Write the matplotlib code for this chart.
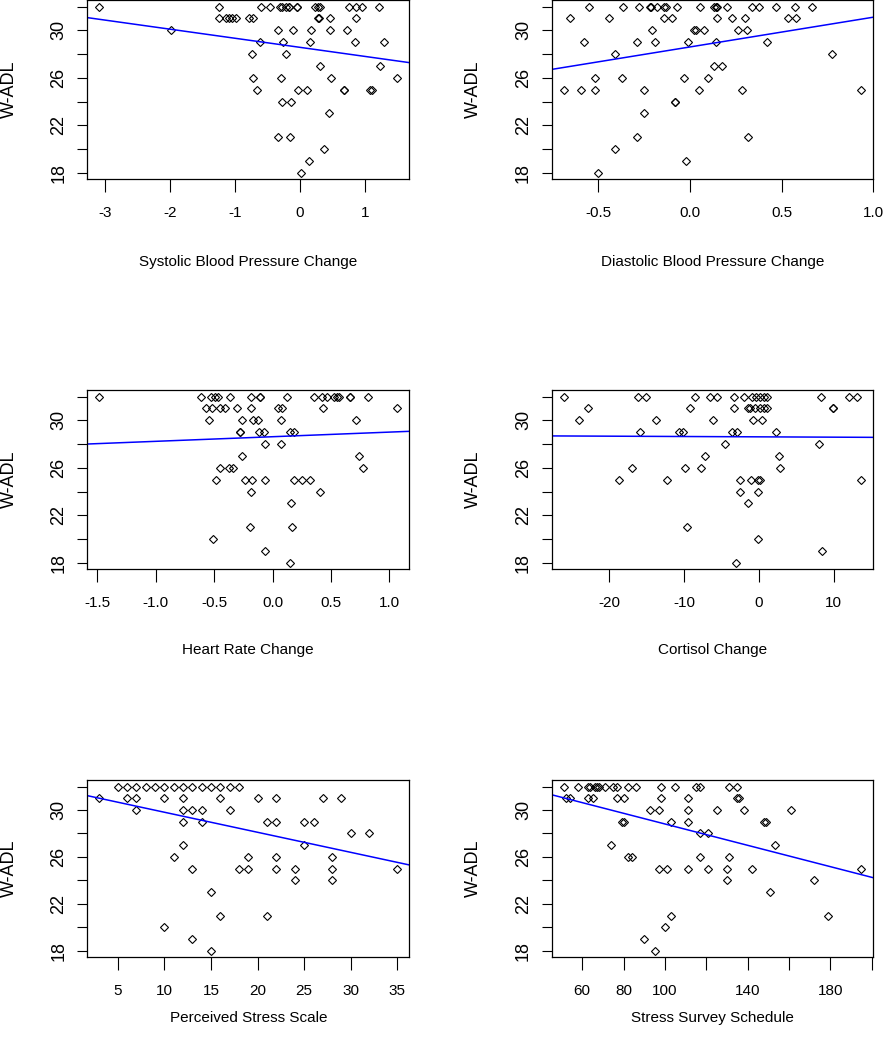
import matplotlib
matplotlib.use('Agg')
import matplotlib.pyplot as plt
import numpy as np

plt.rcParams['font.family'] = ['Liberation Sans', 'DejaVu Sans']

# W-ADL score -> predictor values
sbp = {32: [-3.09, -1.25, -0.605, -0.461, -0.307, -0.271, -0.22, -0.169, -0.169, -0.04, -0.04,
            0.231, 0.283, 0.318, 0.754, 0.867, 0.959, 1.221],
       31: [-1.246, -1.143, -1.092, -1.04, -0.99, -0.784, -0.723, 0.277, 0.303, 0.472, 0.867],
       30: [-1.99, -0.333, -0.112, 0.170, 0.472, 0.724],
       29: [-0.615, -0.266, 0.154, 0.847, 1.293],
       28: [-0.743, -0.210],
       27: [0.318, 1.236],
       26: [-0.723, -0.297, 0.477, 1.503],
       25: [-0.666, -0.030, 0.113, 0.677, 0.677, 1.088, 1.113],
       24: [-0.276, -0.143],
       23: [0.457],
       21: [-0.333, -0.153],
       20: [0.380],
       19: [0.134],
       18: [0.011]}

dbp = {32: [-0.553, -0.364, -0.277, -0.218, -0.214, -0.177, -0.141, -0.132, -0.072, 0.054, 0.131,
            0.140, 0.149, 0.200, 0.339, 0.379, 0.472, 0.573, 0.668],
       31: [-0.654, -0.444, -0.141, -0.099, 0.149, 0.227, 0.299, 0.535, 0.580],
       30: [-0.208, 0.022, 0.031, 0.076, 0.263, 0.312],
       29: [-0.580, -0.291, -0.192, -0.011, 0.142, 0.421],
       28: [-0.410, 0.775],
       27: [0.131, 0.176],
       26: [-0.517, -0.372, -0.034, 0.096],
       25: [-0.689, -0.594, -0.517, -0.250, 0.047, 0.283, 0.934],
       24: [-0.083, -0.083],
       23: [-0.250],
       21: [-0.291, 0.319],
       20: [-0.410],
       19: [-0.020],
       18: [-0.502]}

hr = {32: [-1.482, -0.613, -0.522, -0.49, -0.465, -0.362, -0.180, -0.103, -0.103, 0.128, 0.356,
           0.427, 0.464, 0.527, 0.550, 0.570, 0.667, 0.667, 0.821],
      31: [-0.570, -0.521, -0.450, -0.408, -0.305, -0.185, 0.043, 0.077, 0.436, 1.068],
      30: [-0.542, -0.265, -0.171, -0.123, 0.071, 0.715],
      29: [-0.277, -0.277, -0.114, -0.072, 0.148, 0.185],
      28: [-0.063, 0.071],
      27: [-0.265, 0.740],
      26: [-0.450, -0.371, -0.337, 0.778],
      25: [-0.485, -0.236, -0.176, -0.063, 0.185, 0.250, 0.322],
      24: [-0.180, 0.407],
      23: [0.159],
      21: [-0.189, 0.163],
      20: [-0.508],
      19: [-0.066],
      18: [0.150]}

cort = {32: [-26.08, -16.21, -15.10, -8.57, -6.53, -5.55, -3.33, -2.0, -0.97, -0.44, 0.09, 0.67,
             1.03, 8.36, 12.0, 13.12],
        31: [-22.88, -9.24, -3.33, -1.47, -1.24, -0.58, 0.09, 0.67, 1.03, 9.92, 9.92],
        30: [-24.0, -13.68, -6.13, -0.8, 0.45],
        29: [-15.87, -10.67, -10.2, -3.55, -2.88, 2.23],
        28: [-4.53, 8.0],
        27: [-7.2, 2.67],
        26: [-16.88, -9.87, -7.73, 2.80],
        25: [-18.67, -12.31, -2.57, -1.01, -0.08, 0.09, 13.69],
        24: [-2.57, -0.13],
        23: [-1.51],
        21: [-9.64],
        20: [-0.13],
        19: [8.40],
        18: [-3.11]}

pss = {32: [5, 6, 7, 8, 9, 10, 11, 12, 13, 14, 15, 16, 17, 18],
       31: [3, 6, 7, 10, 12, 16, 20, 22, 27, 29],
       30: [7, 12, 13, 14, 17],
       29: [12, 14, 21, 22, 25, 26],
       28: [30, 32],
       27: [12, 25],
       26: [11, 19, 22, 28],
       25: [13, 18, 19, 22, 24, 28, 35],
       24: [24, 28],
       23: [15],
       21: [16, 21],
       20: [10],
       19: [13],
       18: [15]}

sss = {32: [51, 58, 63, 64, 66, 67, 68, 71, 75, 77, 82, 86, 98, 105, 115, 117, 131, 135],
       31: [52, 54, 63, 65, 77, 80, 98, 111, 135, 136],
       30: [93, 97, 111, 125, 138, 161],
       29: [79, 80, 103, 111, 148, 149],
       28: [117, 121],
       27: [74, 153],
       26: [82, 84, 117, 131],
       25: [97, 101, 111, 121, 130, 142, 195],
       24: [130, 172],
       23: [151],
       21: [103, 179],
       20: [100],
       19: [90],
       18: [95]}

x_labels = ["Systolic Blood Pressure Change", "Diastolic Blood Pressure Change",
            "Heart Rate Change", "Cortisol Change",
            "Perceived Stress Scale", "Stress Survey Schedule"]
x_ticks = [[-3, -2, -1, 0, 1],
           [-0.5, 0.0, 0.5, 1.0],
           [-1.5, -1.0, -0.5, 0.0, 0.5, 1.0],
           [-20, -10, 0, 10],
           [5, 10, 15, 20, 25, 30, 35],
           [60, 80, 100, 120, 140, 160, 180, 200]]
x_ticklabels = [["-3", "-2", "-1", "0", "1"],
                ["-0.5", "0.0", "0.5", "1.0"],
                ["-1.5", "-1.0", "-0.5", "0.0", "0.5", "1.0"],
                ["-20", "-10", "0", "10"],
                ["5", "10", "15", "20", "25", "30", "35"],
                ["60", "80", "100", "", "140", "", "180", ""]]
y_ticks = [18, 20, 22, 24, 26, 28, 30, 32]
y_ticklabels = ["18", "", "22", "", "26", "", "30", ""]

# fitted lines (intercept, slope) as drawn
fit_a = [28.57, 28.60, 28.62, 28.61, 31.52, 33.36]
fit_b = [-0.765, 2.51, 0.389, -0.0028, -0.171, -0.0455]

W, H = 887, 1050
cols = [(87.3, 409.3), (551.7, 873.3)]
rows = [(0, 179.3), (390, 569.3), (780, 957.3)]
xlab_off = [83, 81, 61]   # px below the axes box

fig = plt.figure(figsize=(W / 100, H / 100), dpi=100)

for i, d in enumerate([sbp, dbp, hr, cort, pss, sss]):
    l, r = cols[i % 2]
    t, b = rows[i // 2]
    ax = fig.add_axes([l / W, 1 - b / H, (r - l) / W, (b - t) / H])

    xs, ys = [], []
    for yv, xv in d.items():
        xs += xv
        ys += [yv] * len(xv)
    xs = np.array(xs, dtype=float)
    ys = np.array(ys, dtype=float)

    ax.plot(xs, ys, ls='none', marker='D', ms=3.7, mfc='none', mec='black', mew=0.8)

    # R style 4% axis padding
    xr = xs.max() - xs.min()
    yr = ys.max() - ys.min()
    ax.set_xlim(xs.min() - 0.04 * xr, xs.max() + 0.04 * xr)
    ax.set_ylim(ys.min() - 0.04 * yr, ys.max() + 0.04 * yr)

    ax.axline((0, fit_a[i]), slope=fit_b[i], color='#0000ff', lw=1.1)

    ax.set_xticks(x_ticks[i])
    ax.set_xticklabels(x_ticklabels[i])
    ax.set_yticks(y_ticks)
    ax.set_yticklabels(y_ticklabels, rotation=90, va='center')
    ax.tick_params(axis='x', length=9, width=0.8, pad=10, labelsize=11)
    ax.tick_params(axis='y', length=7.2, width=0.8, pad=7, labelsize=13)
    for s in ax.spines.values():
        s.set_linewidth(0.9)

    ax.set_xlabel(x_labels[i], fontsize=11, va='center')
    ax.xaxis.set_label_coords(0.5, -xlab_off[i // 2] / (b - t))
    ax.set_ylabel("W-ADL", fontsize=13, va='center')
    ax.yaxis.set_label_coords(-78 / (r - l), 0.5)

fig.savefig("out.png", dpi=100)
